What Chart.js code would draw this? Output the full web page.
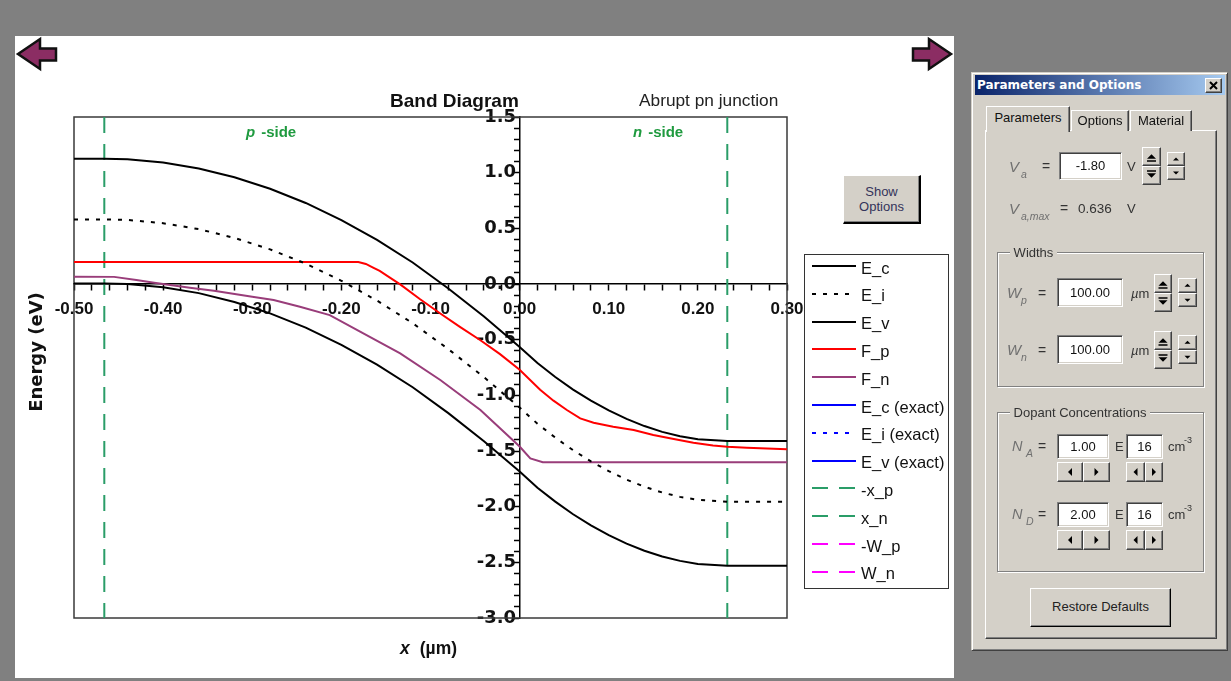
<!DOCTYPE html>
<html>
<head>
<meta charset="utf-8">
<title>Band Diagram</title>
<script src="https://cdn.jsdelivr.net/npm/chart.js@4.4.1/dist/chart.umd.min.js"></script>
<style>
  body { margin:0; width:1231px; height:681px; background:#808080; position:relative; overflow:hidden;
         font-family:"Liberation Sans", Arial, sans-serif; }
  #panel { position:absolute; left:15px; top:36px; width:939px; height:642px; background:#fff; }
  #plot { position:absolute; left:0; top:0; }
  .lbl { position:absolute; white-space:nowrap; line-height:1; }
  .up { position:absolute; box-sizing:border-box; background:#d4d0c8; border:1px solid;
        border-color:#fff #404040 #404040 #fff; box-shadow:inset -1px -1px #808080; }
  .tb { position:absolute; box-sizing:border-box; background:#fff; border:1px solid;
        border-color:#808080 #fff #fff #808080; box-shadow:inset 1px 1px #404040, inset -1px -1px #d4d0c8;
        font-size:13px; color:#111; text-align:center; }
  .grp { position:absolute; box-sizing:border-box; border:1px solid #808080;
         box-shadow:inset 1px 1px #fff, 1px 1px #fff; }
  .tab { position:absolute; box-sizing:border-box; background:#d4d0c8; border:1px solid; border-bottom:none;
         border-color:#fff #404040 transparent #fff; box-shadow:inset -1px 0 #808080;
         font-size:13px; text-align:center; color:#111; }
  svg { position:absolute; left:0; top:0; }
</style>
</head>
<body>
<div id="panel"><canvas id="plot" width="939" height="642"></canvas></div>
<script>
// ---- data ----
// x in um, energies in eV
const xBand = [-0.50, -0.466, -0.44, -0.40, -0.36, -0.32, -0.28, -0.24, -0.20, -0.16, -0.12, -0.08, -0.04, 0.00,
               0.02, 0.04, 0.06, 0.08, 0.10, 0.12, 0.14, 0.16, 0.18, 0.20, 0.233, 0.26, 0.30];
const ecValues = [1.125, 1.125, 1.12, 1.091, 1.038, 0.959, 0.856, 0.728, 0.574, 0.396, 0.193, -0.04, -0.292, -0.565,
                  -0.71, -0.835, -0.948, -1.048, -1.136, -1.212, -1.276, -1.328, -1.367, -1.394, -1.41, -1.41, -1.41];
const eiValues = [0.58, 0.58, 0.575, 0.546, 0.493, 0.414, 0.311, 0.183, 0.029, -0.149, -0.352, -0.585, -0.837, -1.11,
                  -1.255, -1.38, -1.493, -1.593, -1.681, -1.757, -1.821, -1.873, -1.912, -1.939, -1.955, -1.955, -1.955];
const evValues = [0.005, 0.005, 0.0, -0.029, -0.082, -0.161, -0.264, -0.392, -0.546, -0.724, -0.927, -1.16, -1.412, -1.685,
                  -1.83, -1.955, -2.068, -2.168, -2.256, -2.332, -2.396, -2.448, -2.487, -2.514, -2.53, -2.53, -2.53];

const xFp = [-0.50, -0.181, -0.1725, -0.165, -0.157, -0.146, -0.134, -0.112, -0.089, -0.067, -0.044, -0.022, 0.00,
             0.023, 0.038, 0.053, 0.068, 0.083, 0.105, 0.128, 0.15, 0.173, 0.195, 0.217, 0.233, 0.255, 0.30];
const fpValues = [0.198, 0.198, 0.18, 0.15, 0.117, 0.06, -0.003, -0.135, -0.265, -0.385, -0.505, -0.63, -0.77,
                  -0.95, -1.048, -1.132, -1.207, -1.246, -1.282, -1.312, -1.357, -1.393, -1.426, -1.45, -1.462, -1.47, -1.485];

const xFn = [-0.50, -0.455, -0.43, -0.41, -0.37, -0.343, -0.30, -0.276, -0.2465, -0.213, -0.179, -0.134, -0.089,
             -0.044, 0.00, 0.012, 0.026, 0.30];
const fnValues = [0.066, 0.064, 0.035, 0.012, -0.033, -0.06, -0.114, -0.144, -0.204, -0.279, -0.428, -0.623, -0.862,
                  -1.132, -1.46, -1.566, -1.60, -1.60];

// depletion edges and device widths (um)
const edgeValues = [-0.466, 0.233, -100, 100];

const seriesLabels = ['E_c', 'E_i', 'E_v', 'F_p', 'F_n', 'E_c (exact)', 'E_i (exact)', 'E_v (exact)',
                      '-x_p', 'x_n', '-W_p', 'W_n'];
const xRange = [-0.5, 0.3];
const yRange = [-3.0, 1.5];

// ---- helpers ----
const toPts = (xs, ys) => xs.map((x, i) => ({x: x, y: ys[i]}));
const vLine = (x) => [{x: x, y: yRange[1]}, {x: x, y: yRange[0]}];

const green = '#2a9d68';
const datasets = [
  {label: seriesLabels[0], data: toPts(xBand, ecValues), borderColor: '#000', borderWidth: 2},
  {label: seriesLabels[1], data: toPts(xBand, eiValues), borderColor: '#000', borderWidth: 2, borderDash: [4, 7]},
  {label: seriesLabels[2], data: toPts(xBand, evValues), borderColor: '#000', borderWidth: 2},
  {label: seriesLabels[3], data: toPts(xFp, fpValues), borderColor: '#ff0000', borderWidth: 2},
  {label: seriesLabels[4], data: toPts(xFn, fnValues), borderColor: '#993d7a', borderWidth: 2},
  {label: seriesLabels[5], data: [], borderColor: '#0000ff', borderWidth: 2},
  {label: seriesLabels[6], data: [], borderColor: '#0000ff', borderWidth: 2, borderDash: [4, 7]},
  {label: seriesLabels[7], data: [], borderColor: '#0000ff', borderWidth: 2},
  {label: seriesLabels[8], data: vLine(edgeValues[0]), borderColor: green, borderWidth: 2, borderDash: [16, 11]},
  {label: seriesLabels[9], data: vLine(edgeValues[1]), borderColor: green, borderWidth: 2, borderDash: [16, 11]},
  {label: seriesLabels[10], data: vLine(edgeValues[2]), borderColor: '#ff00ff', borderWidth: 2, borderDash: [16, 11]},
  {label: seriesLabels[11], data: vLine(edgeValues[3]), borderColor: '#ff00ff', borderWidth: 2, borderDash: [16, 11]}
];
datasets.forEach(d => { d.pointRadius = 0; d.fill = false; d.tension = 0; });

// frame round the plot area
const frame = {
  id: 'frame',
  beforeDatasetsDraw(chart) {
    const a = chart.chartArea, c = chart.ctx;
    c.save();
    c.strokeStyle = '#3a3a3a';
    c.lineWidth = 1.5;
    c.strokeRect(a.left, a.top, a.right - a.left, a.bottom - a.top);
    c.restore();
  }
};

Chart.defaults.font.family = 'Liberation Sans';

const chart = new Chart(document.getElementById('plot'), {
  type: 'line',
  data: {datasets: datasets},
  options: {
    responsive: false,
    animation: false,
    devicePixelRatio: 1,
    layout: {padding: {left: 59, top: 81, right: 167, bottom: 60}},
    plugins: {legend: {display: false}, tooltip: {enabled: false}},
    scales: {
      x: {
        type: 'linear', min: xRange[0], max: xRange[1],
        position: {y: 0},
        afterFit: (s) => { s.height = 0; },
        border: {display: true, color: '#000', width: 1.5},
        grid: {drawOnChartArea: false, drawTicks: true, tickLength: 6, tickColor: '#000', tickWidth: 1.5},
        ticks: {
          stepSize: 0.02, autoSkip: false, maxRotation: 0, padding: 9, color: '#111',
          font: {family: 'Liberation Sans', size: 17, weight: 'bold'},
          callback: (v) => Math.round(v * 100) % 10 === 0 ? (Math.round(v * 100) / 100).toFixed(2) : ''
        }
      },
      y: {
        type: 'linear', min: yRange[0], max: yRange[1],
        position: {x: 0},
        afterFit: (s) => { s.width = 0; },
        border: {display: true, color: '#000', width: 1.5},
        grid: {drawOnChartArea: false, drawTicks: true, tickLength: 5, tickColor: '#000', tickWidth: 1.5},
        ticks: {
          stepSize: 0.1, autoSkip: false, color: '#111',
          font: {family: 'DejaVu Sans', size: 18, weight: 'bold'},
          // the thin space keeps the label clear of the axis line
          callback: (v) => Math.round(v * 10) % 5 === 0 ? (Math.round(v * 10) / 10).toFixed(1) + '\u2009' : ''
        }
      }
    }
  },
  plugins: [frame]
});

// ---- page furniture ----
function box(cls, x, y, w, h, html, style) {
  const d = document.createElement('div');
  d.className = cls;
  Object.assign(d.style, {left: x + 'px', top: y + 'px', width: w + 'px', height: h + 'px'}, style || {});
  if (html) d.innerHTML = html;
  document.body.appendChild(d);
  return d;
}
// text placed by its baseline
function text(x, base, str, size, style) {
  const d = document.createElement('div');
  d.className = 'lbl';
  d.innerHTML = str;
  Object.assign(d.style, {left: x + 'px', top: (base - 0.846 * size) + 'px', fontSize: size + 'px'}, style || {});
  document.body.appendChild(d);
  return d;
}
function svg(w, h, body) {
  return '<svg width="' + w + '" height="' + h + '" viewBox="0 0 ' + w + ' ' + h + '">' + body + '</svg>';
}
function tri(w, h, dir, s, bar) {
  const cx = w / 2 - 1, cy = h / 2 - 1;
  let p;
  if (dir === 'up') p = [[cx - s, cy + s / 2], [cx, cy - s / 2], [cx + s, cy + s / 2]];
  if (dir === 'down') p = [[cx - s, cy - s / 2], [cx, cy + s / 2], [cx + s, cy - s / 2]];
  if (dir === 'left') p = [[cx + s / 2, cy - s], [cx - s / 2, cy], [cx + s / 2, cy + s]];
  if (dir === 'right') p = [[cx - s / 2, cy - s], [cx + s / 2, cy], [cx - s / 2, cy + s]];
  let b = '<polygon fill="#000" points="' + p.map(q => q.join(',')).join(' ') + '"/>';
  if (bar === 'below') b += '<rect x="' + (cx - s) + '" y="' + (cy + s / 2 + 1.5) + '" width="' + (2 * s) + '" height="1.5" fill="#000"/>';
  if (bar === 'above') b += '<rect x="' + (cx - s) + '" y="' + (cy - s / 2 - 3) + '" width="' + (2 * s) + '" height="1.5" fill="#000"/>';
  return svg(w - 2, h - 2, b);
}

// arrows
const arrowFill = '#8b2d63';
box('', 0, 0, 1231, 681, svg(1231, 681,
  '<polygon points="18,54 40,39 40,48.5 56,48.5 56,60.5 40,60.5 40,69" fill="' + arrowFill + '" stroke="#111" stroke-width="2.5" stroke-linejoin="miter"/>' +
  '<polygon points="951,54 929,39 929,48.5 913,48.5 913,60.5 929,60.5 929,69" fill="' + arrowFill + '" stroke="#111" stroke-width="2.5" stroke-linejoin="miter"/>'),
  {position: 'absolute', pointerEvents: 'none'});

// chart texts
text(390, 107.3, 'Band Diagram', 19, {fontWeight: 'bold', color: '#111'});
text(639, 106.7, 'Abrupt pn junction', 17.3, {color: '#222'});
const sideStyle = {fontWeight: 'bold', color: '#1f9a3f'};
text(246, 136.7, '<i>p</i><span style="margin-left:6px">-side</span>', 15, sideStyle);
text(633, 136.7, '<i>n</i><span style="margin-left:6px">-side</span>', 15, sideStyle);
text(400, 654.5, '<i>x</i><span style="margin-left:10px">(µm)</span>', 17.5, {fontWeight: 'bold', color: '#111'});
box('lbl', -34, 341.7, 140, 20, 'Energy (eV)',
  {fontFamily: '"DejaVu Sans"', fontWeight: 'bold', fontSize: '18px', lineHeight: '20px', textAlign: 'center',
   transform: 'rotate(-90deg)', color: '#111'});

// legend built from the chart datasets
box('', 803.5, 253.5, 145, 335, '', {position: 'absolute', boxSizing: 'border-box', border: '1px solid #333'});
chart.data.datasets.forEach((ds, i) => {
  const y = 266 + i * 27.8;
  const dash = ds.borderDash ? ' stroke-dasharray="' + ds.borderDash.join(' ') + '"' : '';
  box('', 812, y - 3, 45, 6, svg(45, 6, '<line x1="0" y1="3" x2="44" y2="3" stroke="' + ds.borderColor +
      '" stroke-width="' + ds.borderWidth + '"' + dash + '/>'), {position: 'absolute'});
  text(861, y + 7.5, ds.label, 16.5, {color: '#111'});
});

// Show Options button
box('up', 843, 175, 78, 49, 'Show<br>Options',
  {fontSize: '13px', lineHeight: '15px', textAlign: 'center', color: '#33335a', paddingTop: '8px',
   borderRightColor: '#000', borderBottomColor: '#000', borderRightWidth: '2px', borderBottomWidth: '2px'});

// ---- Parameters and Options dialog ----
box('up', 971, 72, 257, 579, '', {borderColor: '#d4d0c8 #404040 #404040 #d4d0c8',
  boxShadow: 'inset 1px 1px #fff, inset -1px -1px #808080'});
box('lbl', 975, 75, 250, 20, 'Parameters and Options',
  {background: 'linear-gradient(to right, #0a246a, #a6caf0)', color: '#fff', fontFamily: '"DejaVu Sans"',
   fontWeight: 'bold', fontSize: '12px', lineHeight: '20px', paddingLeft: '2px', boxSizing: 'border-box'});
box('up', 1205, 78, 17, 15, svg(15, 13, '<path d="M4,3 L11,10 M11,3 L4,10" stroke="#000" stroke-width="2"/>'));

box('up', 985, 130, 232, 509, '');
box('tab', 1071, 110, 58, 21, 'Options', {lineHeight: '19px'});
box('tab', 1130, 110, 62, 21, 'Material', {lineHeight: '19px'});
box('tab', 986, 106, 84, 26, 'Parameters', {lineHeight: '22px', zIndex: 2});

const symStyle = {fontStyle: 'italic', color: '#707070'};
const eqStyle = {color: '#333'};
const unitStyle = {color: '#333'};

function spinPair(xBig, yBig, wBig, hBig, xSmall, ySmall, wSmall, hSmall) {
  box('up', xBig, yBig, wBig, hBig / 2, tri(wBig, hBig / 2, 'up', 4.5, 'below'));
  box('up', xBig, yBig + hBig / 2, wBig, hBig / 2, tri(wBig, hBig / 2, 'down', 4.5, 'above'));
  box('up', xSmall, ySmall, wSmall, hSmall / 2, tri(wSmall, hSmall / 2, 'up', 3));
  box('up', xSmall, ySmall + hSmall / 2, wSmall, hSmall / 2, tri(wSmall, hSmall / 2, 'down', 3));
}

// V_a
text(1009, 171.5, 'V', 15, symStyle);
text(1021, 178, 'a', 10.5, symStyle);
text(1042, 171, '=', 14, eqStyle);
box('tb', 1059, 152, 63, 28, '-1.80', {lineHeight: '26px'});
text(1127, 171, 'V', 13, unitStyle);
spinPair(1142, 147, 19, 38, 1167, 152, 18, 28);

// V_a,max
text(1009, 213.5, 'V', 15, symStyle);
text(1021, 220, 'a,max', 10.5, symStyle);
text(1060, 213, '=', 14, eqStyle);
text(1078, 213, '0.636', 13.5, {color: '#333'});
text(1127, 213, 'V', 13, unitStyle);

// Widths group
box('grp', 997, 252, 207, 135, '');
text(1010, 257, '&nbsp;Widths&nbsp;', 13, {background: '#d4d0c8', color: '#333'});
[[293, 'p'], [350, 'n']].forEach(([cy, sub]) => {
  text(1007, cy + 4.5, 'W', 15, symStyle);
  text(1021, cy + 11, sub, 10.5, symStyle);
  text(1038, cy + 4.5, '=', 14, eqStyle);
  box('tb', 1057, cy - 15, 66, 29, '100.00', {lineHeight: '27px'});
  text(1131, cy + 4.5, '<i>µ</i>m', 13, unitStyle);
  spinPair(1154, cy - 19, 18, 38, 1178, cy - 15, 19, 29);
});

// Dopant Concentrations group
box('grp', 997, 412, 207, 160, '');
text(1010, 417, '&nbsp;Dopant Concentrations&nbsp;', 13, {background: '#d4d0c8', color: '#333'});
[[446, 'A', '1.00'], [514, 'D', '2.00']].forEach(([cy, sub, val]) => {
  text(1012, cy + 5.5, 'N', 14.5, symStyle);
  text(1026, cy + 11, sub, 10.5, symStyle);
  text(1038, cy + 5, '=', 14, eqStyle);
  box('tb', 1057, cy - 12, 52, 25, val, {lineHeight: '23px'});
  text(1115, cy + 5, 'E', 13, unitStyle);
  box('tb', 1126, cy - 12, 37, 25, '16', {lineHeight: '23px'});
  text(1168, cy + 5, 'cm', 13, unitStyle);
  text(1184, cy - 2, '-3', 9, unitStyle);
  box('up', 1057, cy + 16, 26, 20, tri(26, 20, 'left', 4));
  box('up', 1083, cy + 16, 27, 20, tri(27, 20, 'right', 4));
  box('up', 1126, cy + 16, 19, 20, tri(19, 20, 'left', 4));
  box('up', 1145, cy + 16, 18, 20, tri(18, 20, 'right', 4));
});

box('up', 1030, 588, 141, 39, 'Restore Defaults',
  {fontSize: '13px', lineHeight: '36px', textAlign: 'center', color: '#222',
   borderRightColor: '#000', borderBottomColor: '#000'});
</script>
</body>
</html>
